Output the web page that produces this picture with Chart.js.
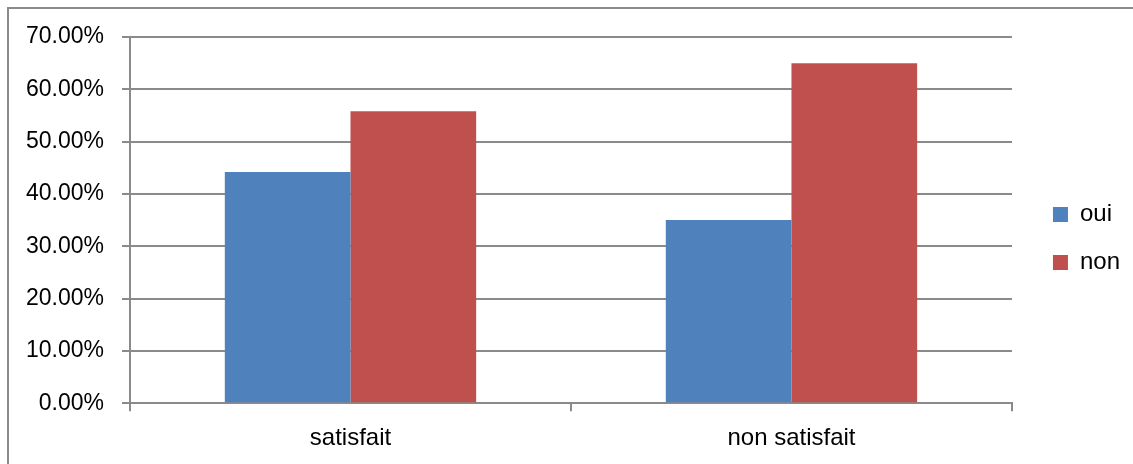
<!DOCTYPE html>
<html>
<head>
<meta charset="utf-8">
<script src="https://cdn.jsdelivr.net/npm/chart.js@4/dist/chart.umd.min.js"></script>
<style>
    html, body {
        margin: 0;
        padding: 0;
        background: #ffffff;
        overflow: hidden;
    }
    .zone-graphique {
        position: absolute;
        left: 0;
        top: 0;
        width: 1133px;
        height: 476px;
    }
</style>
</head>
<body>
<div class="zone-graphique">
    <canvas id="graphSatisfaction" width="1133" height="476"></canvas>
</div>

<script>
    // Données du graphique (en %)
    const categories = ['satisfait', 'non satisfait'];
    const serieOui = [44.2, 35.0];
    const serieNon = [55.8, 65.0];
    const nomsSeries = ['oui', 'non'];
    const graduations = [0, 10, 20, 30, 40, 50, 60, 70];

    const COLORS = {
        OUI: '#4f81bd',
        NON: '#c0504d',
        GRILLE: '#8a8a8a',
        TEXTE: '#000000'
    };

    const FAMILLE = '"Liberation Sans", Arial, sans-serif';
    const POLICE_AXE_Y = { family: FAMILLE, size: 23 };
    const POLICE_TEXTE = { family: FAMILLE, size: 24 };

    // Recale la légende (droite / haut) une fois la mise en page calculée
    const decalageLegende = {
        id: 'decalageLegende',
        afterLayout(chart) {
            const legende = chart.legend;
            if (legende) {
                legende.left += 17;
                legende.right += 17;
                legende.top -= 13;
                legende.bottom -= 13;
            }
        }
    };

    // Cadre gris autour du graphique (bords gauche et haut)
    const cadreGraphique = {
        id: 'cadreGraphique',
        beforeDraw(chart) {
            const c = chart.ctx;
            c.save();
            c.strokeStyle = COLORS.GRILLE;
            c.lineWidth = 2;
            c.beginPath();
            c.moveTo(8, chart.height);
            c.lineTo(8, 8);
            c.lineTo(chart.width, 8);
            c.stroke();
            c.restore();
        }
    };

    document.addEventListener('DOMContentLoaded', function () {
        if (typeof Chart === 'undefined') {
            console.error('Chart.js non chargé');
            return;
        }

        const ctx = document.getElementById('graphSatisfaction').getContext('2d');

        new Chart(ctx, {
            type: 'bar',
            data: {
                labels: categories,
                datasets: [
                    {
                        label: nomsSeries[0],
                        data: serieOui,
                        backgroundColor: COLORS.OUI,
                        borderWidth: 0
                    },
                    {
                        label: nomsSeries[1],
                        data: serieNon,
                        backgroundColor: COLORS.NON,
                        borderWidth: 0
                    }
                ]
            },
            options: {
                responsive: false,
                animation: false,
                devicePixelRatio: 1,
                categoryPercentage: 0.57,
                barPercentage: 1,
                layout: {
                    padding: { left: 0, top: 37, right: 20, bottom: 10 }
                },
                plugins: {
                    legend: {
                        position: 'right',
                        labels: {
                            boxWidth: 15,
                            boxHeight: 15,
                            padding: 24,
                            color: COLORS.TEXTE,
                            font: POLICE_TEXTE
                        }
                    },
                    tooltip: { enabled: false }
                },
                scales: {
                    x: {
                        offset: true,
                        grid: {
                            offset: true,
                            drawOnChartArea: false,
                            drawTicks: true,
                            tickLength: 8,
                            color: COLORS.GRILLE,
                            lineWidth: 2
                        },
                        border: { display: true, color: COLORS.GRILLE, width: 2 },
                        ticks: {
                            color: COLORS.TEXTE,
                            font: POLICE_TEXTE,
                            padding: 13,
                            maxRotation: 0
                        }
                    },
                    y: {
                        min: graduations[0],
                        max: graduations[graduations.length - 1],
                        afterFit: function (echelle) {
                            echelle.width = 130;
                        },
                        afterBuildTicks: function (echelle) {
                            echelle.ticks = graduations.map(v => ({ value: v }));
                        },
                        grid: {
                            drawTicks: true,
                            tickLength: 8,
                            color: COLORS.GRILLE,
                            lineWidth: 2
                        },
                        border: { display: true, color: COLORS.GRILLE, width: 2 },
                        ticks: {
                            color: COLORS.TEXTE,
                            font: POLICE_AXE_Y,
                            padding: 18,
                            callback: function (valeur) {
                                return valeur.toFixed(2) + '%';
                            }
                        }
                    }
                }
            },
            plugins: [decalageLegende, cadreGraphique]
        });
    });
</script>
</body>
</html>
